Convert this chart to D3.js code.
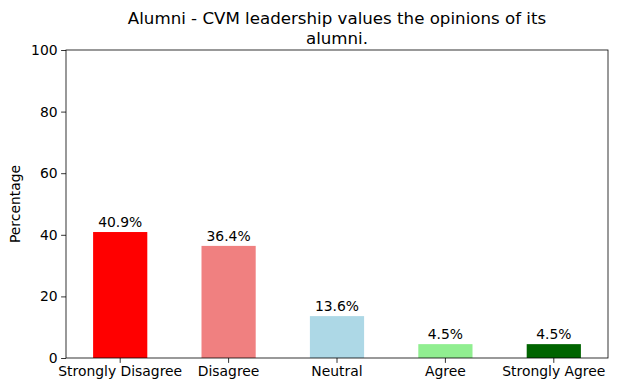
<!DOCTYPE html>
<html><head><meta charset="utf-8">
<script src="https://cdn.jsdelivr.net/npm/d3@7"></script>
<style>body{margin:0;background:#fff}svg{display:block;font-family:"DejaVu Sans",sans-serif}</style>
</head><body><svg id="c" width="618" height="392"></svg>
<script>
const categories = ["Strongly Disagree","Disagree","Neutral","Agree","Strongly Agree"];
const values = [40.9, 36.4, 13.6, 4.5, 4.5];
const colors = ["#ff0000","#f08080","#add8e6","#90ee90","#006400"];
const yTicks = [0,20,40,60,80,100];
const titleLines = ["Alumni - CVM leadership values the opinions of its","alumni."];
const yLabel = "Percentage";

const svg = d3.select("#c");
const m = {l:66, r:608, t:50, b:358};
const fs = "13.9px";
const x = d3.scaleBand().domain(categories).range([m.l, m.r]).paddingInner(0.5).paddingOuter(0.25);
const y = d3.scaleLinear().domain([0,100]).range([m.b, m.t]);

svg.selectAll("rect.bar").data(values).enter().append("rect")
  .attr("x",(d,i)=>x(categories[i])).attr("width",x.bandwidth())
  .attr("y",d=>y(d)).attr("height",d=>y(0)-y(d)).attr("fill",(d,i)=>colors[i]);

svg.selectAll("text.lab").data(values).enter().append("text")
  .attr("x",(d,i)=>x(categories[i])+x.bandwidth()/2).attr("y",d=>y(d)-5)
  .attr("text-anchor","middle").attr("font-size",fs).attr("fill","#000")
  .text(d=>d.toFixed(1)+"%");

const xa = svg.append("g").attr("transform",`translate(0,${m.b})`)
  .call(d3.axisBottom(x).tickSizeOuter(0).tickSize(4.9).tickPadding(3.5));
const ya = svg.append("g").attr("transform",`translate(${m.l},0)`)
  .call(d3.axisLeft(y).tickValues(yTicks).tickSizeOuter(0).tickSize(4.9).tickPadding(3.5));
[xa,ya].forEach(a=>{a.selectAll("text").attr("font-size",fs).attr("fill","#000").attr("font-family","DejaVu Sans");
  a.selectAll("line").attr("stroke","#000").attr("stroke-width",0.8);
  a.select(".domain").remove();});

svg.append("rect").attr("x",m.l).attr("y",m.t).attr("width",m.r-m.l).attr("height",m.b-m.t)
  .attr("fill","none").attr("stroke","#000").attr("stroke-width",0.8);

svg.append("text").attr("transform",`translate(20,${(m.t+m.b)/2}) rotate(-90)`)
  .attr("text-anchor","middle").attr("font-size",fs).text(yLabel);

svg.selectAll("text.title").data(titleLines).enter().append("text")
  .attr("x",(m.l+m.r)/2).attr("y",(d,i)=>24+i*20).attr("text-anchor","middle")
  .attr("font-size","16.67px").attr("fill","#000").text(d=>d);
</script></body></html>
